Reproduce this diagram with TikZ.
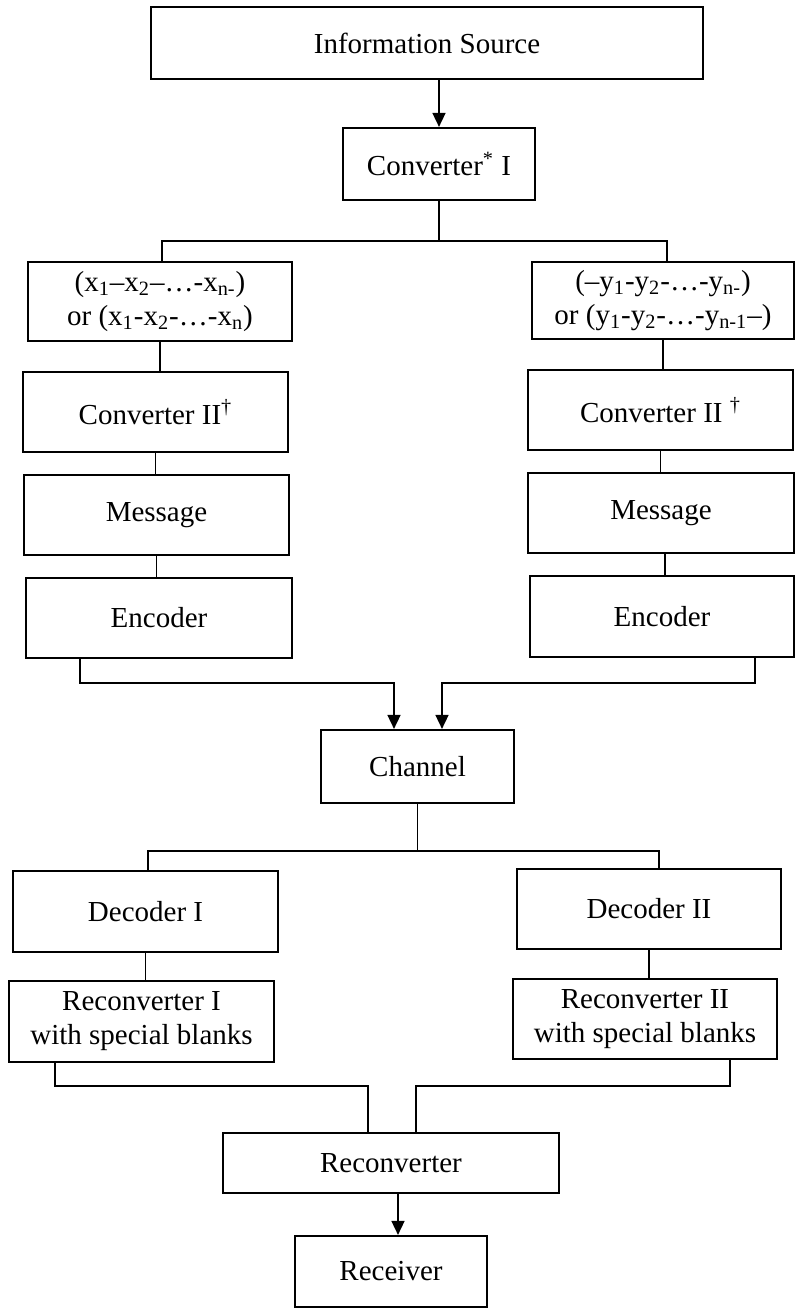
\documentclass[tikz,border=0pt]{standalone}
\usepackage{fontspec}
\setmainfont{Liberation Serif}
\usepackage{tikz}
\usetikzlibrary{arrows.meta}
\usetikzlibrary{positioning}
\tikzstyle{Ablk}=[draw,line width=1.1pt,inner sep=0,align=center,font=\fontsize{14.5}{17}\selectfont]
\tikzstyle{wire}=[line width=0.8pt]
\tikzstyle{hit}=[wire,->,>={Triangle[length=7pt,width=6.5pt]}]
\newcommand{\boxl}[6]{\node[Ablk,minimum width=#4*0.5pt,minimum height=#5*0.5pt] (#1) at (#2,#3) {#6};}
\begin{document}
\begin{tikzpicture}[x=0.5pt,y=-0.5pt]
  \useasboundingbox (0,0) rectangle (795,1308);

  \boxl{src}{427}{43}{552}{72}{Information Source}
  \boxl{conv1}{439}{164}{192}{72}{Converter\textsuperscript{*} I}
  \boxl{xs}{160}{301.5}{264}{79}{(x\textsubscript{1}–x\textsubscript{2}–…-x\textsubscript{n-})\\or (x\textsubscript{1}-x\textsubscript{2}-…-x\textsubscript{n})}
  \boxl{ys}{663}{300.5}{262}{77}{(–y\textsubscript{1}-y\textsubscript{2}-…-y\textsubscript{n-})\\or (y\textsubscript{1}-y\textsubscript{2}-…-y\textsubscript{n-1}–)}
  \boxl{cv2l}{155.5}{412}{265}{80}{Converter II\textsuperscript{†}}
  \boxl{cv2r}{660.5}{410}{265}{80}{Converter II \textsuperscript{†}}
  \boxl{msgl}{156.5}{515}{265}{80}{Message}
  \boxl{msgr}{661}{513}{266}{80}{Message}
  \boxl{encl}{159}{618}{266}{80}{Encoder}
  \boxl{encr}{662}{616.5}{264}{81}{Encoder}
  \boxl{chan}{417.5}{766.5}{193}{73}{Channel}
  \boxl{dec1}{145.5}{911.5}{265}{81}{Decoder I}
  \boxl{dec2}{649}{909}{264}{80}{Decoder II}
  \boxl{rc1}{141.5}{1021.5}{265}{81}{Reconverter I\\with special blanks}
  \boxl{rc2}{645}{1019}{264}{80}{Reconverter II\\with special blanks}
  \boxl{rc}{391}{1163}{336}{60}{Reconverter}
  \boxl{recv}{391}{1271.5}{192}{71}{Receiver}

  \coordinate (splitA) at (439,241);
  \coordinate (splitB) at (417.5,851);
  \coordinate (mergeE) at (417.5,683);
  \coordinate (mergeR) at (391,1086);
  \coordinate (eL) at ([xshift=27.5pt]encl.south west);
  \coordinate (eR) at ([xshift=-20pt]encr.south east);
  \coordinate (rL) at ([xshift=23.5pt]rc1.south west);
  \coordinate (rR) at ([xshift=-24pt]rc2.south east);

  \draw[hit] (conv1.north |- src.south) -- (conv1.north);
  \draw[wire] (conv1.south) -- (splitA);
  \draw[wire] ([xshift=1pt]xs.north) |- (splitA) -| ([xshift=2pt]ys.north);
  \draw[wire] (xs.south) -- (xs.south |- cv2l.north);
  \draw[wire] (cv2l.south) -- (cv2l.south |- msgl.north);
  \draw[wire] (msgl.south) -- (msgl.south |- encl.north);
  \draw[wire] (ys.south) -- (ys.south |- cv2r.north);
  \draw[wire] (cv2r.south) -- (cv2r.south |- msgr.north);
  \draw[wire] ([xshift=2pt]msgr.south) -- ([xshift=2pt]msgr.south |- encr.north);
  \draw[hit] (eL) -- (eL |- mergeE) -| ([xshift=-11.75pt]chan.north);
  \draw[hit] (eR) -- (eR |- mergeE) -| ([xshift=12.25pt]chan.north);
  \draw[wire] (chan.south) -- (splitB);
  \draw[wire] ([xshift=1.25pt]dec1.north) |- (splitB) -| ([xshift=5pt]dec2.north);
  \draw[wire] (dec1.south) -- (dec1.south |- rc1.north);
  \draw[wire] (dec2.south) -- (dec2.south |- rc2.north);
  \draw[wire] (rL) -- (rL |- mergeR) -| ([xshift=-11.5pt]rc.north);
  \draw[wire] (rR) -- (rR |- mergeR) -| ([xshift=12.5pt]rc.north);
  \draw[hit] ([xshift=3.5pt]rc.south) -- ([xshift=3.5pt]recv.north);
\end{tikzpicture}
\end{document}
